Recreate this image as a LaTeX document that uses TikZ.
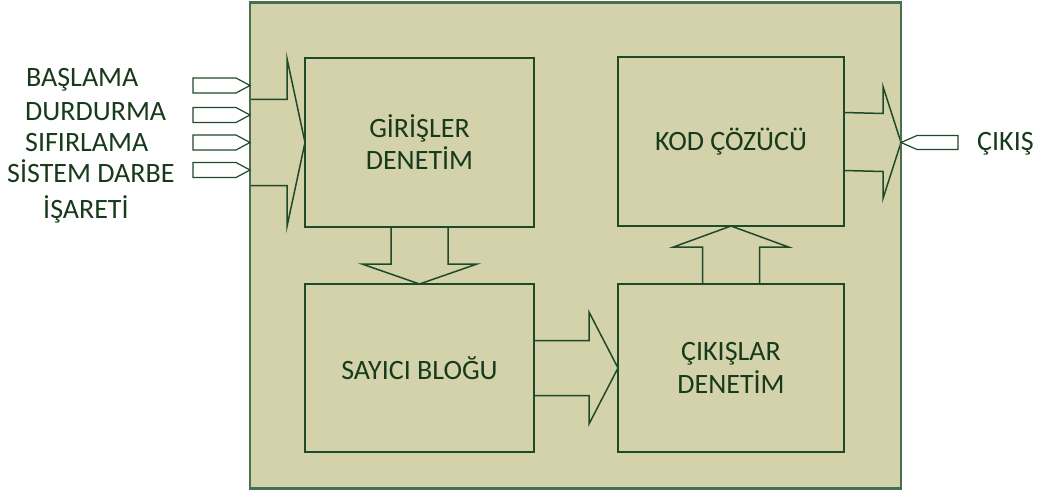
\documentclass[tikz,border=0pt]{standalone}
\usepackage{fontspec}
\setmainfont{Carlito}
\usetikzlibrary{calc}
\definecolor{bgfill}{HTML}{D3D2AB}
\definecolor{linegreen}{HTML}{1F4A28}
\definecolor{outergreen}{HTML}{476F50}
\definecolor{textgreen}{HTML}{173A1B}
\tikzset{
  blk/.style={draw=linegreen, line width=1.5pt, fill=bgfill, inner sep=0pt, outer sep=0pt,
    align=center, text=textgreen, font=\fontsize{28}{33}\selectfont},
  outerbox/.style={draw=outergreen, line width=2.2pt, inner sep=0pt, outer sep=0pt},
  barrow/.style={draw=linegreen, line width=1.5pt, line join=miter},
  sarrow/.style={draw=linegreen, line width=1.2pt, fill=white, line join=miter},
  lbl/.style={anchor=base west, inner sep=0pt, text=textgreen, font=\fontsize{28}{33}\selectfont},
}
\begin{document}
\begin{tikzpicture}[x=1pt,y=-1pt]
\useasboundingbox (0,0) rectangle (1043,492);
% outer box background
\node[fill=bgfill, minimum width=651pt, minimum height=486pt, inner sep=0pt, outer sep=0pt] (bg) at (575.5,245.5) {};
% blocks
\node[blk, minimum width=229pt, minimum height=169pt] (gir) at (419.5,142.5) {GİRİŞLER\\[-1pt]DENETİM};
\node[blk, minimum width=229pt, minimum height=168pt] (say) at (419.5,368) {SAYICI BLOĞU};
\node[blk, minimum width=226pt, minimum height=168pt] (cik) at (731,368) {ÇIKIŞLAR\\DENETİM};
\node[blk, minimum width=226pt, minimum height=169pt] (kod) at (731,141.5) {KOD ÇÖZÜCÜ};
% input big arrow
\coordinate (inl) at (250,142.5);
\draw[barrow] ($(inl)+(0,-43)$) -- ($(gir.west)+(-18,-43)$) -- ($(gir.west)+(-18,-84)$) -- (gir.west)
  -- ($(gir.west)+(-18,84)$) -- ($(gir.west)+(-18,43)$) -- ($(inl)+(0,43)$);
% output big arrow
\coordinate (outr) at (901,142.5);
\draw[barrow] ($(kod.east)+(0,-29)$) -- ($(outr)+(-18,-29)$) -- ($(outr)+(-18,-56)$) -- (outr)
  -- ($(outr)+(-18,56)$) -- ($(outr)+(-18,29)$) -- ($(kod.east)+(0,29)$);
% down arrow
\draw[barrow] ($(gir.south)+(-28.5,0)$) -- ($(gir.south)+(-28.5,37)$) -- ($(gir.south)+(-57.5,37)$) -- (say.north)
  -- ($(gir.south)+(57.5,37)$) -- ($(gir.south)+(28.5,37)$) -- ($(gir.south)+(28.5,0)$);
% right arrow
\draw[barrow] ($(say.east)+(0,-27.5)$) -- ($(say.east)+(55,-27.5)$) -- ($(say.east)+(55,-56)$) -- (cik.west)
  -- ($(say.east)+(55,56)$) -- ($(say.east)+(55,27.5)$) -- ($(say.east)+(0,27.5)$);
% up arrow
\draw[barrow] ($(cik.north)+(-28.5,0)$) -- ($(cik.north)+(-28.5,-37)$) -- ($(cik.north)+(-57.5,-37)$) -- (kod.south)
  -- ($(cik.north)+(57.5,-37)$) -- ($(cik.north)+(28.5,-37)$) -- ($(cik.north)+(28.5,0)$);
% outer border
\node[outerbox, minimum width=651pt, minimum height=486pt] (outer) at (575.5,245.5) {};
% small input arrows
\foreach \n/\y in {i1/85.5, i2/115, i3/142.5, i4/170}{
  \coordinate (\n) at (250,\y);
  \draw[sarrow] (\n) -- ++(-14,-7.5) -- ++(-43,0) -- ++(0,15) -- ++(43,0) -- cycle;
}
% small output arrow
\draw[sarrow] (outr) -- ++(16,-7) -- ++(41,0) -- ++(0,14) -- ++(-41,0) -- cycle;
% labels
\node[lbl] (l1) at (26,87) {BAŞLAMA};
\node[lbl] (l2) at (25,121) {DURDURMA};
\node[lbl] (l3) at (25,151) {SIFIRLAMA};
\node[lbl] (l4) at (7,182) {SİSTEM DARBE};
\node[lbl] (l5) at (43,218) {İŞARETİ};
\node[lbl] (l6) at (977,150) {ÇIKIŞ};
\end{tikzpicture}
\end{document}
